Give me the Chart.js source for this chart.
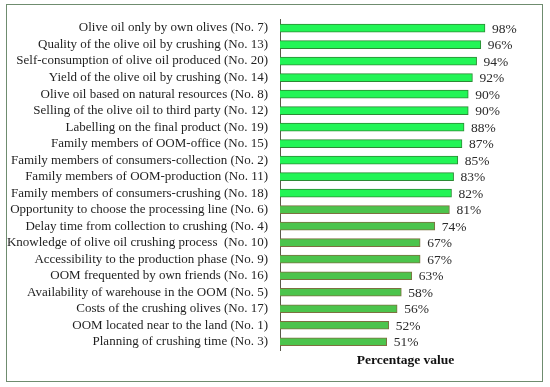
<!DOCTYPE html>
<html>
<head>
<meta charset="utf-8">
<script src="https://cdn.jsdelivr.net/npm/chart.js@4/dist/chart.umd.min.js"></script>
<style>
    html, body { margin: 0; padding: 0; background: #fff; }
    #wrap { position: relative; width: 550px; height: 387px; }
    #frame {
        position: absolute; left: 6px; top: 4px; width: 537px; height: 378px;
        border: 1.5px solid #6f8c6f; box-sizing: border-box;
    }
    canvas { position: absolute; left: 0; top: 0; }
</style>
</head>
<body>
<div id="wrap">
    <div id="frame"></div>
    <canvas id="chart" width="550" height="387"></canvas>
</div>
<script>
// Etiquetas y valores (%)
const labels = [
    'Olive oil only by own olives (No. 7)',
    'Quality of the olive oil by crushing (No. 13)',
    'Self-consumption of olive oil produced (No. 20)',
    'Yield of the olive oil by crushing (No. 14)',
    'Olive oil based on natural resources (No. 8)',
    'Selling of the olive oil to third party (No. 12)',
    'Labelling on the final product (No. 19)',
    'Family members of OOM-office (No. 15)',
    'Family members of consumers-collection (No. 2)',
    'Family members of OOM-production (No. 11)',
    'Family members of consumers-crushing (No. 18)',
    'Opportunity to choose the processing line (No. 6)',
    'Delay time from collection to crushing (No. 4)',
    'Knowledge of olive oil crushing process  (No. 10)',
    'Accessibility to the production phase (No. 9)',
    'OOM frequented by own friends (No. 16)',
    'Availability of warehouse in the OOM (No. 5)',
    'Costs of the crushing olives (No. 17)',
    'OOM located near to the land (No. 1)',
    'Planning of crushing time (No. 3)'
];
const values = [98, 96, 94, 92, 90, 90, 88, 87, 85, 83, 82, 81, 74, 67, 67, 63, 58, 56, 52, 51];

const FONT = "'Liberation Serif', 'DejaVu Serif', serif";
const brightCount = 11;

// Etiquetas de valor al final de cada barra
const valueLabels = {
    id: 'valueLabels',
    afterDatasetsDraw(chart) {
        const ctx = chart.ctx;
        const meta = chart.getDatasetMeta(0);
        ctx.save();
        ctx.font = '13.5px ' + FONT;
        ctx.fillStyle = '#2a2a2a';
        ctx.textAlign = 'left';
        ctx.textBaseline = 'middle';
        meta.data.forEach((bar, i) => {
            ctx.fillText(values[i] + '%', bar.x + 7, bar.y + 1);
        });
        ctx.restore();
    }
};

new Chart(document.getElementById('chart'), {
    type: 'bar',
    data: {
        labels,
        datasets: [{
            data: values,
            backgroundColor: values.map((v, i) => i < brightCount ? '#22f556' : '#4cc44c'),
            borderColor: values.map((v, i) => i < brightCount ? '#2c8a34' : '#7d7040'),
            borderWidth: 1,
            borderSkipped: 'left',
            barThickness: 8
        }]
    },
    options: {
        indexAxis: 'y',
        responsive: false,
        animation: false,
        layout: { padding: { top: 17, right: 19, bottom: 18, left: 0 } },
        plugins: { legend: { display: false }, tooltip: { enabled: false } },
        scales: {
            x: {
                min: 0,
                max: 120,
                ticks: { display: false },
                grid: { display: false },
                border: { display: false },
                title: {
                    display: true,
                    text: 'Percentage value',
                    color: '#111',
                    font: { family: FONT, size: 13.5, weight: 'bold' },
                    padding: { top: 4, bottom: 0 }
                },
                afterFit(scale) { scale.height = 19; }
            },
            y: {
                grid: { display: false, drawTicks: false },
                border: { display: true, color: '#5a5a4a', width: 1 },
                ticks: {
                    color: '#1e1e1e',
                    padding: 12,
                    autoSkip: false,
                    font: { family: FONT, size: 13 }
                },
                afterFit(scale) { scale.width = 280; }
            }
        }
    },
    plugins: [valueLabels]
});
</script>
</body>
</html>
